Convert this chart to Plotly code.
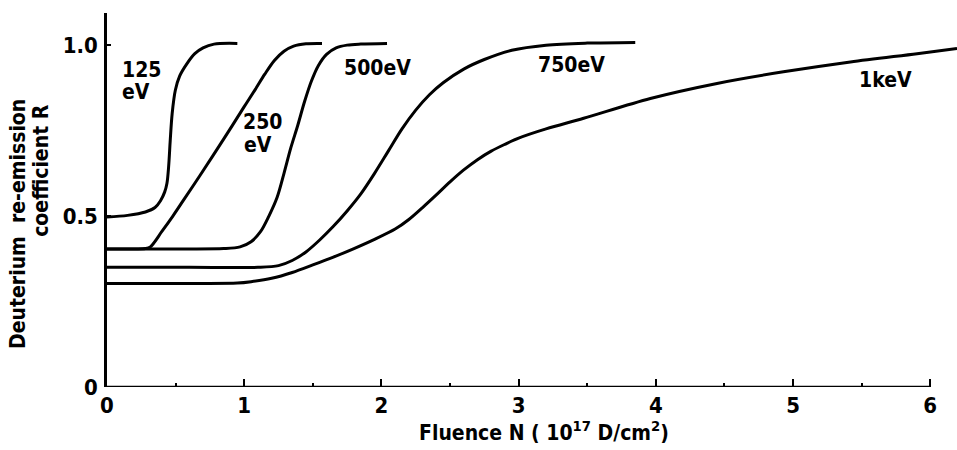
import plotly.graph_objects as go

# ---- data ----
x125 = [0, 0.15, 0.28, 0.35, 0.39, 0.42, 0.437, 0.449, 0.461, 0.475, 0.498, 0.53, 0.583, 0.64, 0.70, 0.78, 0.95]
y125 = [0.497, 0.502, 0.512, 0.525, 0.545, 0.57, 0.596, 0.644, 0.722, 0.80, 0.868, 0.91, 0.946, 0.975, 0.992, 1.003, 1.005]

x250 = [0, 0.2, 0.28, 0.316, 0.40, 0.48, 0.56, 0.68, 0.85, 1.0, 1.08, 1.15, 1.22, 1.29, 1.36, 1.45, 1.567]
y250 = [0.404, 0.404, 0.405, 0.41, 0.455, 0.50, 0.548, 0.62, 0.725, 0.82, 0.87, 0.915, 0.955, 0.982, 0.997, 1.004, 1.005]

x500 = [0, 0.5, 0.85, 0.97, 1.05, 1.12, 1.18, 1.24, 1.29, 1.34, 1.39, 1.44, 1.49, 1.54, 1.60, 1.67, 1.75, 1.85, 2.041]
y500 = [0.404, 0.404, 0.405, 0.41, 0.425, 0.455, 0.50, 0.555, 0.625, 0.70, 0.765, 0.835, 0.895, 0.94, 0.973, 0.992, 1.0, 1.003, 1.005]

x750 = [0, 0.6, 1.1, 1.25, 1.35, 1.45, 1.55, 1.65, 1.75, 1.85, 1.95, 2.05, 2.15, 2.25, 2.35, 2.45, 2.6, 2.75, 2.95, 3.2, 3.5, 3.85]
y750 = [0.35, 0.35, 0.35, 0.355, 0.37, 0.395, 0.43, 0.47, 0.515, 0.565, 0.625, 0.69, 0.755, 0.81, 0.855, 0.89, 0.93, 0.958, 0.985, 1.0, 1.006, 1.008]

x1k = [0, 0.6, 0.95, 1.05, 1.2, 1.35, 1.5, 1.65, 1.8, 1.95, 2.1, 2.2, 2.3, 2.4, 2.5, 2.6, 2.7, 2.8, 2.9, 3.0, 3.2, 3.474, 3.96, 4.446, 4.93, 5.418, 5.904, 6.195]
y1k = [0.303, 0.303, 0.304, 0.308, 0.318, 0.335, 0.357, 0.38, 0.405, 0.432, 0.462, 0.49, 0.525, 0.562, 0.60, 0.635, 0.665, 0.69, 0.71, 0.728, 0.755, 0.786, 0.844, 0.888, 0.922, 0.951, 0.975, 0.99]

series_x = [x125, x250, x500, x750, x1k]
series_y = [y125, y250, y500, y750, y1k]
series_names = ["125 eV", "250 eV", "500 eV", "750 eV", "1 keV"]

x_tickvals = [0, 1, 2, 3, 4, 5, 6]
x_ticktext = ["0", "1", "2", "3", "4", "5", "6"]
y_tickvals = [0, 0.5, 1.0]
y_ticktext = ["0", "0.5", "1.0"]

label_texts = ["125", "eV", "250", "eV", "500eV", "750eV", "1keV"]

FONT = "DejaVu Sans Condensed, Liberation Sans Narrow, DejaVu Sans, sans-serif"

fig = go.Figure()
for xs, ys, nm in zip(series_x, series_y, series_names):
    fig.add_trace(go.Scatter(
        x=xs, y=ys, mode="lines", name=nm,
        line=dict(color="black", width=3, shape="spline", smoothing=0.9),
        showlegend=False, hoverinfo="skip",
    ))

# curve labels (positions in data units)
label_pos = [(0.248, 0.928), (0.211, 0.864), (1.13, 0.776), (1.097, 0.708),
             (1.975, 0.934), (3.382, 0.943), (5.671, 0.899)]
for txt, (lx, ly) in zip(label_texts, label_pos):
    fig.add_annotation(x=lx, y=ly, xref="x", yref="y", text=txt, showarrow=False,
                       font=dict(family=FONT, size=21, color="black", weight="bold"),
                       xanchor="center", yanchor="middle")

# axis titles
fig.add_annotation(x=0.514, y=-0.1176, xref="paper", yref="paper",
                   text="Fluence N ( 10<sup>17</sup> D/cm<sup>2</sup>)", showarrow=False,
                   font=dict(family=FONT, size=21, color="black", weight="bold"),
                   xanchor="center", yanchor="middle")
fig.add_annotation(x=-0.1047, y=0.436, xref="paper", yref="paper",
                   text="Deuterium  re-emission", showarrow=False, textangle=-90,
                   font=dict(family=FONT, size=21, color="black", weight="bold"),
                   xanchor="center", yanchor="middle")
fig.add_annotation(x=-0.0776, y=0.578, xref="paper", yref="paper",
                   text="coefficient R", showarrow=False, textangle=-90,
                   font=dict(family=FONT, size=21, color="black", weight="bold"),
                   xanchor="center", yanchor="middle")

# x axis line only up to the last tick
fig.add_shape(type="line", xref="x", yref="y", x0=0, x1=x_tickvals[-1], y0=0, y1=0,
              line=dict(color="black", width=2.5), layer="above")

fig.update_layout(
    width=957, height=450,
    margin=dict(l=107, r=0, t=13, b=63),
    paper_bgcolor="white", plot_bgcolor="white",
    font=dict(family=FONT, size=22, color="black", weight="bold"),
    xaxis=dict(range=[0, 6.195], showgrid=False, zeroline=False, showline=False,
               tickvals=x_tickvals, ticktext=x_ticktext,
               ticks="inside", ticklen=8, tickwidth=2, tickcolor="black",
               ticklabelstandoff=3,
               minor=dict(dtick=0.5, tick0=0, ticks="inside", ticklen=4, tickwidth=2, tickcolor="black"),
               fixedrange=True),
    yaxis=dict(range=[0, 1.094], showgrid=False, zeroline=False, showline=True,
               linecolor="black", linewidth=2.5,
               tickvals=y_tickvals, ticktext=y_ticktext,
               ticks="inside", ticklen=4, tickwidth=2, tickcolor="black",
               ticklabelstandoff=2, fixedrange=True),
)

fig.write_html("out.html")
